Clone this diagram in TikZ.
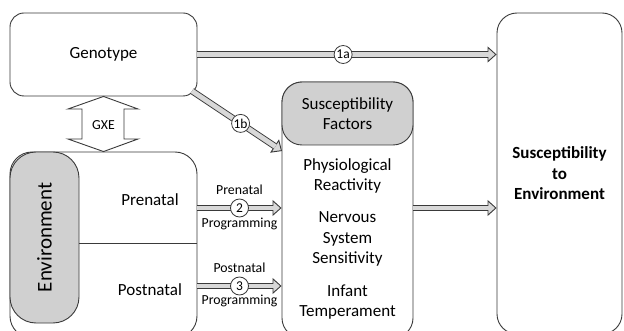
\documentclass[tikz,border=0pt]{standalone}
\usepackage{fontspec}
\setmainfont{Carlito}
\usetikzlibrary{arrows.meta,calc}
\definecolor{boxgray}{HTML}{D0D0D0}
\definecolor{arrowgray}{HTML}{D8D8D8}
\definecolor{linegray}{HTML}{3A3A3A}

\tikzset{
  panel/.style={draw=linegray, line width=0.9pt, rounded corners=14pt, fill=white},
  fatarrow/.style={line width=6.6pt, draw=linegray,
    -{Triangle[line width=0.9pt, fill=arrowgray, length=9pt, width=16pt]}},
  fatfill/.style={line width=4.8pt, draw=arrowgray, shorten >=8pt},
  badge/.style={circle, draw=linegray, fill=white, line width=0.8pt, inner sep=0pt,
    minimum size=18pt, font=\fontsize{13.5}{13.5}\selectfont},
  smalltext/.style={font=\fontsize{13.8}{13.8}\selectfont},
  bigtext/.style={align=center, font=\fontsize{17}{20.5}\selectfont}
}

\begin{document}
\begin{tikzpicture}[x=1pt, y=1pt]
    \clip (0,0) rectangle (624,-331);
    \useasboundingbox (0,0) rectangle (624,-331);

    % Genotype and the outcome box
    \node[panel, minimum width=187pt, minimum height=83pt, bigtext] (geno) at (103.5,-54.5) {Genotype};
    \node[panel, minimum width=125pt, minimum height=321pt, bigtext, rounded corners=20pt,
          font=\fontsize{17}{20.5}\selectfont\bfseries] (outcome) at (559.5,-173.5)
          {Susceptibility\\to\\Environment};

    % Environment box with its gray side label
    \node[panel, minimum width=187pt, minimum height=186pt, rounded corners=22pt] (env) at (103.5,-245) {};
    \node[panel, fill=boxgray, minimum width=69pt, minimum height=171pt, rounded corners=26pt] (envside) at (44.5,-237.5) {};
    \node[rotate=90, font=\fontsize{21}{21}\selectfont] (envlabel) at (envside.center) {Environment};
    \draw[linegray, line width=0.9pt] (envside.east |- 0,-243) -- (env.east |- 0,-243);
    \node[bigtext] (prenatal) at (150,-200) {Prenatal};
    \node[bigtext] (postnatal) at (150,-290) {Postnatal};

    % Susceptibility factors
    \node[panel, minimum width=131pt, minimum height=256pt, rounded corners=20pt] (factors) at (347.5,-210) {};
    \node[panel, fill=boxgray, minimum width=131pt, minimum height=63pt, rounded corners=20pt, bigtext] (factorhead)
          at (347.5,-113.5) {Susceptibility\\Factors};
    \node[bigtext] (physio) at (347.5,-176) {Physiological\\Reactivity};
    \node[bigtext] (nervous) at (347.5,-239) {Nervous\\System\\Sensitivity};
    \node[bigtext] (temper) at (347.5,-302) {Infant\\Temperament};

    % GXE double arrow
    \draw[linegray, line width=0.9pt, fill=white] (geno.south) -- (138,-109) -- (124,-109) -- (124,-139)
        -- (138,-139) -- (env.north) -- (68,-139) -- (82,-139) -- (82,-109) -- (68,-109) -- cycle;
    \node[smalltext] (gxe) at (103.5,-125) {GXE};

    % Pathways
    \coordinate (from1b) at (192,-91);
    \coordinate (to1b) at (282,-151);
    \coordinate (row2) at (0,-208);
    \coordinate (row3) at (0,-286);
    \foreach \a/\b in {geno.east/outcome.west |- geno.east, from1b/to1b,
                       env.east |- row2/factors.west |- row2, env.east |- row3/factors.west |- row3,
                       factors.east |- row2/outcome.west |- row2} {
        \draw[fatarrow] (\a) -- (\b);
        \draw[fatfill] (\a) -- (\b);
    }
    \node[badge] (b1a) at ($(geno.east)!0.487!(outcome.west |- geno.east)$) {1a};
    \node[badge] (b1b) at ($(from1b)!0.54!(to1b)$) {1b};
    \node[badge] (b2) at (239.5,-208) {2};
    \node[badge] (b3) at (239.5,-286) {3};

    % Programming labels
    \node[smalltext] (pre1) at (239.5,-190) {Prenatal};
    \node[smalltext] (pre2) at (239.5,-224) {Programming};
    \node[smalltext] (post1) at (239.5,-268) {Postnatal};
    \node[smalltext] (post2) at (239.5,-301) {Programming};
\end{tikzpicture}
\end{document}
